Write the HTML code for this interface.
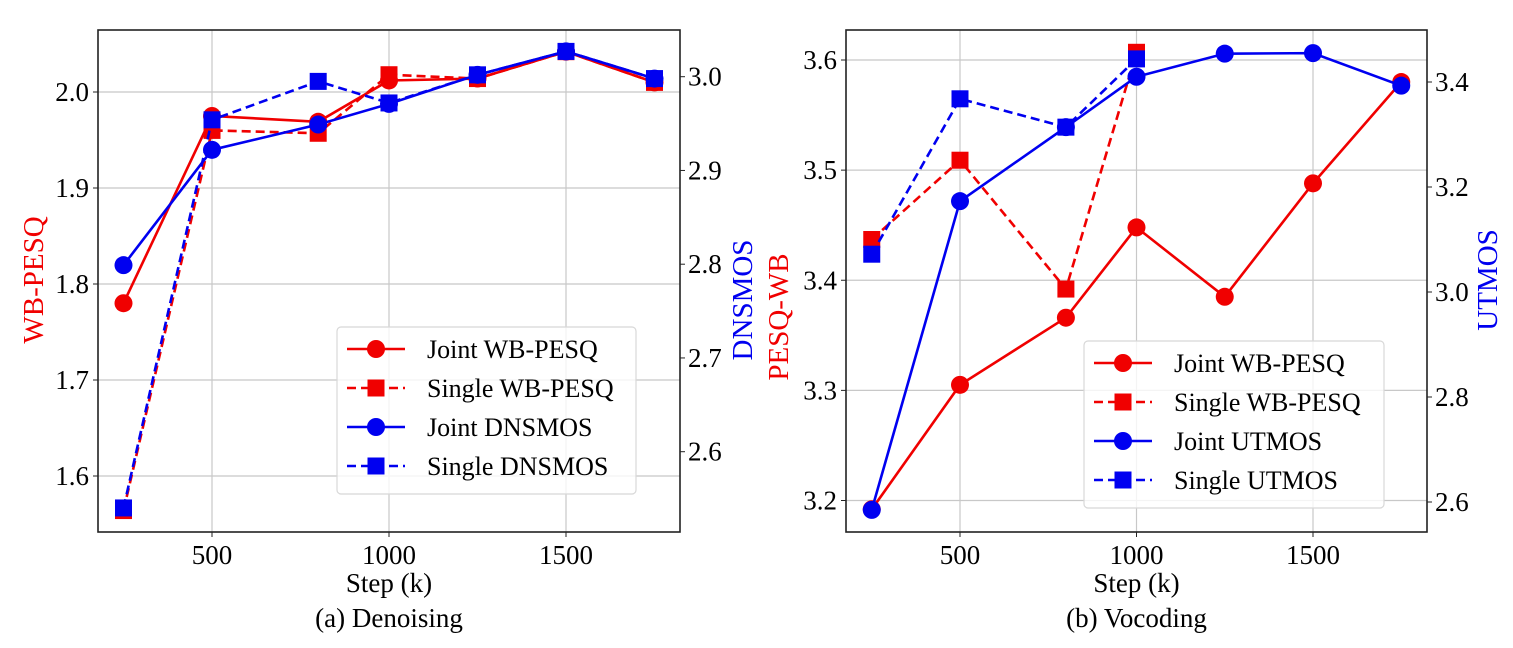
<!DOCTYPE html>
<html><head><meta charset="utf-8"><style>
body{margin:0;background:#fff}
svg, svg text{font-family:"Liberation Serif","Times New Roman","Noto Serif CJK SC",serif}
</style></head><body>
<svg id="c" width="1513" height="643" viewBox="0 0 1513 643" xmlns="http://www.w3.org/2000/svg"></svg>
<script>
const steps=[250,500,800,1000,1250,1500,1750];
const xTicks=[500,1000,1500];
// Panel (a) Denoising
const aJointPesq=[1.78,1.975,1.969,2.012,2.014,2.042,2.010];
const aSinglePesq=[1.564,1.960,1.957,2.018,2.014,2.042,2.010];
const aJointDns=[2.799,2.922,2.949,2.971,3.002,3.027,2.998];
const aSingleDns=[2.54,2.954,2.995,2.972,3.002,3.027,2.998];
const aLeftTicks=[1.6,1.7,1.8,1.9,2.0];
const aRightTicks=[2.6,2.7,2.8,2.9,3.0];
// Panel (b) Vocoding
const bStepsSingle=[250,500,800,1000];
const bJointPesq=[3.192,3.305,3.366,3.448,3.385,3.488,3.580];
const bSinglePesq=[3.437,3.509,3.392,3.607];
const bJointUt=[2.585,3.173,3.314,3.41,3.454,3.455,3.393];
const bSingleUt=[3.072,3.368,3.314,3.444];
const bLeftTicks=[3.2,3.3,3.4,3.5,3.6];
const bRightTicks=[2.6,2.8,3.0,3.2,3.4];

const svg=document.getElementById('c');
const NS='http://www.w3.org/2000/svg';
function mk(tag,attrs,parent){const e=document.createElementNS(NS,tag);for(const k in attrs)e.setAttribute(k,attrs[k]);(parent||svg).appendChild(e);return e;}
function lin(d0,d1,r0,r1){return v=>r0+(v-d0)*(r1-r0)/(d1-d0);}
const RED='#f00000',BLUE='#0000f0';

function panel(P){
  const g=mk('g',{});
  
  
  const x=lin(500,1500,P.x500,P.x1500);
  const yl=lin(P.l0,P.l1,P.yl0,P.yl1);
  const yr=lin(P.r0,P.r1,P.yr0,P.yr1);
  xTicks.forEach(t=>{const l=mk('line',{x1:x(t),x2:x(t),y1:P.top,y2:P.bot,stroke:'#c8c8c8','stroke-width':1.2},g);});
  P.lt.forEach(t=>{const l=mk('line',{x1:P.left,x2:P.right,y1:yl(t),y2:yl(t),stroke:'#c8c8c8','stroke-width':1.2},g);});
  P.series.forEach(s=>{
    const sg=mk('g',{},g);
    
    
    const ys=s.axis==='l'?yl:yr;
    const pts=s.xs.map((v,i)=>x(v)+','+ys(s.vals[i])).join(' ');
    mk('polyline',{points:pts,fill:'none',stroke:s.color,'stroke-width':2.6,'stroke-dasharray':s.dash?'9,5':'none'},sg);
    s.xs.forEach((v,i)=>{
      const cx=x(v),cy=ys(s.vals[i]);
      let m;
      if(s.sq)m=mk('rect',{x:cx-8.5,y:cy-8.5,width:17,height:17,fill:s.color},sg);
      else m=mk('circle',{cx:cx,cy:cy,r:9,fill:s.color},sg);
      
      
    });
  });
  const f=mk('rect',{x:P.left,y:P.top,width:P.right-P.left,height:P.bot-P.top,fill:'none',stroke:'#222','stroke-width':1.6},g);
  
  xTicks.forEach(t=>{mk('line',{x1:x(t),x2:x(t),y1:P.bot,y2:P.bot+5,stroke:'#222'},g);const tx=mk('text',{x:x(t),y:P.bot+32,'font-size':27,'text-anchor':'middle'},g);tx.textContent=t;});
  P.lt.forEach(t=>{mk('line',{x1:P.left-5,x2:P.left,y1:yl(t),y2:yl(t),stroke:'#222'},g);const tx=mk('text',{x:P.left-9,y:yl(t)+9,'font-size':27,'text-anchor':'end'},g);tx.textContent=t.toFixed(1);});
  P.rt.forEach(t=>{mk('line',{x1:P.right,x2:P.right+5,y1:yr(t),y2:yr(t),stroke:'#222'},g);const tx=mk('text',{x:P.right+8,y:yr(t)+9,'font-size':27},g);tx.textContent=t.toFixed(1);});
  let t=mk('text',{x:(P.left+P.right)/2,y:P.bot+60,'font-size':27,'text-anchor':'middle'},g);t.textContent='Step (k)';
  t=mk('text',{x:(P.left+P.right)/2,y:P.bot+95,'font-size':27,'text-anchor':'middle'},g);t.textContent=P.caption;
  t=mk('text',{x:0,y:0,'font-size':29,fill:RED,'text-anchor':'middle',transform:`translate(${P.llx},${P.lly}) rotate(-90)`},g);t.textContent=P.lLabel;
  t=mk('text',{x:0,y:0,'font-size':29,fill:BLUE,'text-anchor':'middle',transform:`translate(${P.rlx},${P.rly}) rotate(-90)`},g);t.textContent=P.rLabel;
  const lg=mk('g',{},g);
  mk('rect',{x:P.lgx,y:P.lgy,width:P.lgw,height:167,rx:4,fill:'rgba(255,255,255,0.8)',stroke:'#d8d8d8','stroke-width':1.2},lg);
  P.series.forEach((s,i)=>{
    const ry=P.lgy+22+i*39;
    const e=mk('g',{},lg);
    mk('line',{x1:P.lgx+10,x2:P.lgx+68,y1:ry,y2:ry,stroke:s.color,'stroke-width':2.6,'stroke-dasharray':s.dash?'9,5':'none'},e);
    if(s.sq)mk('rect',{x:P.lgx+30.5,y:ry-8.5,width:17,height:17,fill:s.color},e);
    else mk('circle',{cx:P.lgx+39,cy:ry,r:9,fill:s.color},e);
    const tx=mk('text',{x:P.lgx+90,y:ry+9,'font-size':26},e);tx.textContent=s.label;
  });
}
panel({name:'denoising-panel',left:98,right:680,top:30,bot:532,x500:212,x1500:566,
  l0:1.6,l1:2.0,yl0:476,yl1:92,r0:2.6,r1:3.0,yr0:451.7,yr1:76.7,lt:aLeftTicks,rt:aRightTicks,
  caption:'(a) Denoising',lLabel:'WB-PESQ',rLabel:'DNSMOS',llx:43,lly:280,rlx:752,rly:300,
  lgx:337,lgy:327,lgw:299,
  series:[
   {name:'joint-wb-pesq-series',label:'Joint WB-PESQ',xs:steps,vals:aJointPesq,axis:'l',color:RED},
   {name:'single-wb-pesq-series',label:'Single WB-PESQ',xs:steps,vals:aSinglePesq,axis:'l',color:RED,dash:1,sq:1},
   {name:'joint-dnsmos-series',label:'Joint DNSMOS',xs:steps,vals:aJointDns,axis:'r',color:BLUE},
   {name:'single-dnsmos-series',label:'Single DNSMOS',xs:steps,vals:aSingleDns,axis:'r',color:BLUE,dash:1,sq:1}]});
panel({name:'vocoding-panel',left:846,right:1427,top:30,bot:532,x500:960,x1500:1313,
  l0:3.2,l1:3.6,yl0:500.5,yl1:60,r0:2.6,r1:3.4,yr0:502,yr1:82,lt:bLeftTicks,rt:bRightTicks,
  caption:'(b) Vocoding',lLabel:'PESQ-WB',rLabel:'UTMOS',llx:788,lly:317,rlx:1497,rly:280,
  lgx:1084,lgy:341,lgw:300,
  series:[
   {name:'joint-wb-pesq-series',label:'Joint WB-PESQ',xs:steps,vals:bJointPesq,axis:'l',color:RED},
   {name:'single-wb-pesq-series',label:'Single WB-PESQ',xs:bStepsSingle,vals:bSinglePesq,axis:'l',color:RED,dash:1,sq:1},
   {name:'joint-utmos-series',label:'Joint UTMOS',xs:steps,vals:bJointUt,axis:'r',color:BLUE},
   {name:'single-utmos-series',label:'Single UTMOS',xs:bStepsSingle,vals:bSingleUt,axis:'r',color:BLUE,dash:1,sq:1}]});
</script>
</body></html>
